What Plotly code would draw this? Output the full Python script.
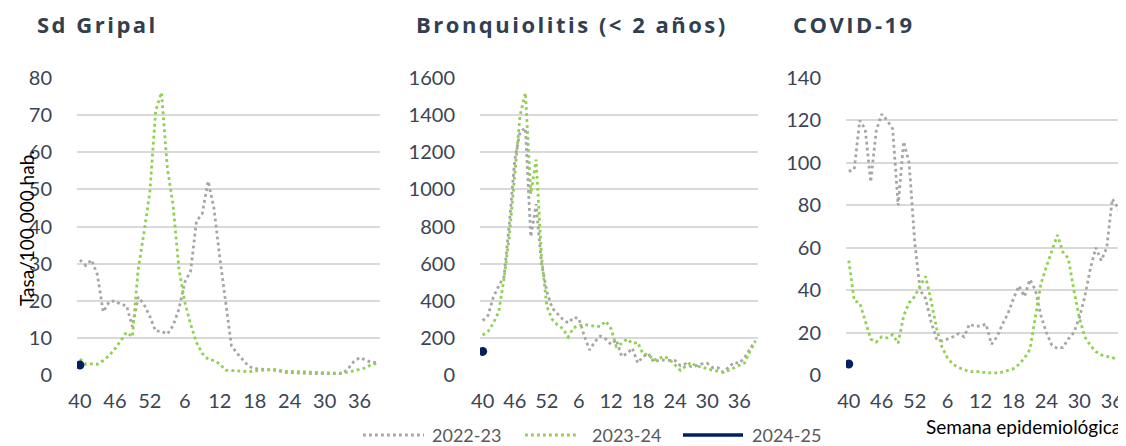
import plotly.graph_objects as go

# ---------------- data ----------------
weeks = [str(w) for w in list(range(40, 53)) + list(range(1, 40))]
tick_weeks = ["40", "46", "52", "6", "12", "18", "24", "30", "36"]
seasons = ["2022-23", "2023-24", "2024-25"]

gripal_2223 = [31, 29.5, 31, 27, 17, 19.7, 20, 19, 18.7, 13, 21, 19, 15.8, 11.8, 11.8, 11,
               13.3, 17.8, 25, 28, 41.4, 43.5, 52.2, 45, 31.7, 20.5, 7.9, 5.8, 3.9, 2.3, 1.7,
               1.6, 1.6, 1.5, 1.2, 0.7, 0.6, 0.5, 0.5, 0.5, 0.2, 0.3, 0.4, 0.4, 0.3, 0.3, 1.6,
               3.6, 4.7, 4.1, 3.4, 3.3]
gripal_2324 = [4.3, 2.9, 3.0, 2.9, 3.9, 5.2, 7, 9.4, 11.5, 10.3, 28.5, 38.4, 49.2, 71.2, 76.1,
               55.9, 45.6, 28.5, 19.6, 13.7, 8.8, 5.8, 4.2, 3.9, 3.0, 1.3, 1.2, 1.3, 1.2, 0.9,
               1.1, 1.3, 1.4, 1.5, 1.4, 1.0, 1.0, 1.1, 0.9, 0.8, 0.7, 0.7, 0.5, 0.5, 0.5, 0.5,
               0.7, 1.1, 1.5, 1.9, 2.8, 3.1]
gripal_2425 = [2.7]

bronq_2223 = [293, 320, 420, 480, 530, 820, 1160, 1310, 1330, 745, 920, 600, 450, 360, 330,
              300, 280, 310, 305, 210, 135, 180, 210, 195, 165, 190, 100, 115, 145, 65, 100,
              115, 70, 80, 80, 77, 77, 50, 60, 45, 50, 60, 63, 40, 40, 15, 40, 68, 63, 95,
              140, 185]
bronq_2324 = [215, 235, 280, 340, 520, 750, 1080, 1400, 1520, 975, 1160, 640, 370, 300, 270,
              250, 205, 255, 265, 272, 268, 262, 262, 290, 250, 154, 170, 194, 170, 176, 113,
              110, 80, 88, 100, 82, 55, 25, 48, 68, 45, 45, 32, 27, 18, 15, 25, 40, 52, 65,
              130, 180]
bronq_2425 = [127]

covid_2223 = [96, 97, 120, 116, 91, 115, 123, 120, 116, 80, 110, 100, 63, 40, 36, 25, 17, 16,
              17, 18, 19.5, 18, 24, 23, 23, 24, 14.5, 18, 24, 29, 36, 42, 37, 45, 40, 28, 20,
              14, 12.5, 13, 17, 20, 27, 37, 50, 60, 54, 60, 83, 79, 73, 68]
covid_2324 = [54, 35, 34, 25, 17, 15.5, 18, 17.5, 19, 15, 28, 34, 37, 42, 46.5, 35, 22, 13,
              8, 5, 3.5, 2.5, 1.6, 1.6, 1.6, 1.0, 0.9, 1.0, 1.3, 2.0, 3.0, 5.0, 8.0, 12, 27,
              43, 51, 58, 66, 58, 55, 40, 27, 18, 14, 11, 9.5, 8.8, 8, 7.5, 7, 6.5]
covid_2425 = [5.2]

panels = [
    ("Sd Gripal", [gripal_2223, gripal_2324, gripal_2425], 80, 10),
    ("Bronquiolitis (&lt; 2 años)", [bronq_2223, bronq_2324, bronq_2425], 1600, 200),
    ("COVID-19", [covid_2223, covid_2324, covid_2425], 140, 20),
]

# ---------------- layout helpers ----------------
# the page body has an 8px default margin, so the figure is offset by (8, 8)
OFF = 8
W, H = 1126 - OFF, 446 - OFF
def px(x):
    return (x - OFF) / W
def py(y):
    return 1 - (y - OFF) / H

GREY = "#a6a6a6"
GREEN = "#92d050"
NAVY = "#002060"
TICK = "#3b4454"
TITLE = "#323f4f"
GRID = "#d9d9d9"
DOT = "2.8px,3.2px"

x_domains = [(77, 380), (480, 758), (846, 1126)]
x_ranges = [[-0.5, 51.5], [-0.5, 51.5], [-0.5, 50.5]]
title_x = [35, 414, 791]

fig = go.Figure()
annotations = []
for k, (title, series, ymax, dt) in enumerate(panels):
    ax = "" if k == 0 else str(k + 1)
    xref, yref = "x" + ax, "y" + ax
    s2223, s2324, s2425 = series
    fig.add_trace(go.Scatter(x=weeks, y=s2223, mode="lines", name=seasons[0],
                             line=dict(color=GREY, width=2.8, dash=DOT),
                             xaxis=xref, yaxis=yref, showlegend=False, hoverinfo="skip"))
    fig.add_trace(go.Scatter(x=weeks, y=s2324, mode="lines", name=seasons[1],
                             line=dict(color=GREEN, width=2.8, dash=DOT),
                             xaxis=xref, yaxis=yref, showlegend=False, hoverinfo="skip"))
    fig.add_trace(go.Scatter(x=weeks[:len(s2425)], y=s2425, mode="markers+lines", name=seasons[2],
                             line=dict(color=NAVY, width=3),
                             marker=dict(color=NAVY, size=9),
                             xaxis=xref, yaxis=yref, showlegend=False, hoverinfo="skip"))
    d0, d1 = x_domains[k]
    fig.update_layout(**{
        "xaxis" + ax: dict(domain=[px(d0), px(d1)], type="category", categoryorder="array",
                           categoryarray=weeks, range=x_ranges[k], tickmode="array",
                           tickvals=tick_weeks, ticktext=tick_weeks, showgrid=False,
                           zeroline=False, showline=False, ticks="outside", ticklen=8,
                           tickcolor="rgba(0,0,0,0)", anchor=yref, automargin=False,
                           tickfont=dict(family="Lato", size=20, color=TICK)),
        "yaxis" + ax: dict(domain=[py(375), py(78)], range=[0, ymax], dtick=dt,
                           showgrid=True, gridcolor=GRID, gridwidth=1.6, zeroline=False,
                           showline=False, ticks="outside", ticklen=20, automargin=False,
                           tickcolor="rgba(0,0,0,0)", anchor=xref,
                           tickfont=dict(family="Lato", size=20, color=TICK)),
    })
    annotations.append(dict(
        x=px(title_x[k]), y=py(24), xref="paper", yref="paper", xanchor="left",
        yanchor="middle", showarrow=False,
        text='<b><span style="letter-spacing:2.5px">' + title + '</span></b>',
        font=dict(family="Open Sans", size=22, color=TITLE)))

# y-axis title
annotations.append(dict(x=px(26), y=py(228), xref="paper", yref="paper", showarrow=False,
                        text="Tasa/100 000 hab.", textangle=-90, xanchor="center",
                        yanchor="middle", font=dict(family="Lato", size=19, color="#000000")))
# x-axis label
annotations.append(dict(x=px(1123), y=py(426), xref="paper", yref="paper", showarrow=False,
                        text="Semana epidemiológica", xanchor="right", yanchor="middle",
                        font=dict(family="Lato", size=19, color="#000000")))

# legend (drawn manually)
legend_items = [(363, 424, GREY, DOT, 2.8, 430), (525, 578, GREEN, DOT, 2.8, 590),
                (683, 743, NAVY, "solid", 3.5, 750)]
shapes = []
for (x0, x1, col, dash, w, tx), name in zip(legend_items, seasons):
    shapes.append(dict(type="line", xref="paper", yref="paper", x0=px(x0), x1=px(x1),
                       y0=py(435), y1=py(435), line=dict(color=col, width=w, dash=dash)))
    annotations.append(dict(x=px(tx), y=py(435), xref="paper", yref="paper", showarrow=False,
                            text=name, xanchor="left", yanchor="middle",
                            font=dict(family="Lato", size=18, color="#595959")))

fig.update_layout(width=W, height=H, margin=dict(l=0, r=0, t=0, b=0),
                  paper_bgcolor="white", plot_bgcolor="white",
                  annotations=annotations, shapes=shapes)

fig.write_html("out.html")
